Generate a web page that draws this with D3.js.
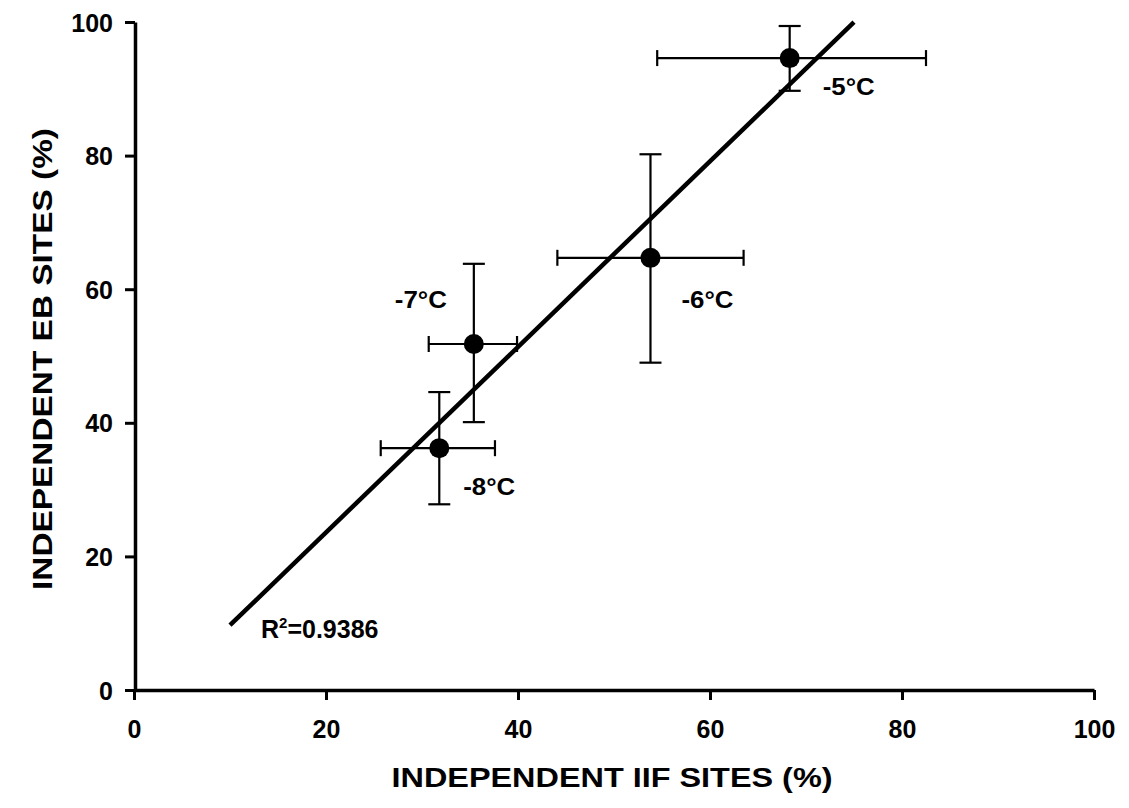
<!DOCTYPE html>
<html>
<head>
<meta charset="utf-8">
<script src="https://cdn.jsdelivr.net/npm/d3@7"></script>
<style>
  html, body { margin: 0; padding: 0; background: #fff; }
  svg { display: block; font-family: "Liberation Sans", Arial, sans-serif; font-weight: bold; }
</style>
</head>
<body>
<svg id="chart" width="1129" height="808"></svg>
<script>
// ---- data ----
const labels   = ["-5°C", "-6°C", "-7°C", "-8°C"];
const iifX     = [68.3, 53.8, 35.4, 31.8];
const ebY      = [94.6, 64.7, 51.8, 36.2];
const xErrLow  = [54.5, 44.1, 30.7, 25.7];
const xErrHigh = [82.5, 63.5, 39.9, 37.6];
const yErrLow  = [89.7, 49.0, 40.1, 27.8];
const yErrHigh = [99.4, 80.2, 63.8, 44.6];
const xTicks   = [0, 20, 40, 60, 80, 100];
const yTicks   = [0, 20, 40, 60, 80, 100];
const regSlope = 1.389, regIntercept = -4.19, regFrom = 10, regTo = 75;
const r2Text   = "0.9386";
const xTitle   = "INDEPENDENT IIF SITES (%)";
const yTitle   = "INDEPENDENT EB SITES (%)";

// ---- layout ----
const svg = d3.select("#chart");
const x = d3.scaleLinear().domain([0, 100]).range([134, 1094]);
const y = d3.scaleLinear().domain([0, 100]).range([690, 22]);

// axes
const xAxis = svg.append("g").attr("transform", "translate(0,690)")
  .call(d3.axisBottom(x).tickValues(xTicks).tickSize(10).tickSizeOuter(0).tickPadding(20));
const yAxis = svg.append("g").attr("transform", "translate(135,0)")
  .call(d3.axisLeft(y).tickValues(yTicks).tickSize(10).tickSizeOuter(0).tickPadding(12));
[xAxis, yAxis].forEach(a => {
  a.select(".domain").attr("stroke", "#000").attr("stroke-width", 3.5);
  a.selectAll(".tick line").attr("stroke", "#000").attr("stroke-width", 3);
  a.selectAll(".tick text").attr("fill", "#000")
    .style("font-size", "25px").style("font-weight", "bold")
    .style("font-family", '"Liberation Sans", Arial, sans-serif');
});
yAxis.selectAll(".tick text").attr("dy", "0.36em");
xAxis.selectAll(".tick text").attr("dy", "0.72em");

// regression line
svg.append("line")
  .attr("x1", x(regFrom)).attr("y1", y(regSlope * regFrom + regIntercept))
  .attr("x2", x(regTo)).attr("y2", y(regSlope * regTo + regIntercept))
  .attr("stroke", "#000").attr("stroke-width", 4.5);

// error bars
const idx = d3.range(labels.length);
const eb = svg.append("g").attr("stroke", "#000").attr("stroke-width", 2.2);
idx.forEach(i => {
  eb.append("line").attr("x1", x(xErrLow[i])).attr("x2", x(xErrHigh[i]))
    .attr("y1", y(ebY[i])).attr("y2", y(ebY[i]));
  eb.append("line").attr("x1", x(iifX[i])).attr("x2", x(iifX[i]))
    .attr("y1", y(yErrLow[i])).attr("y2", y(yErrHigh[i]));
  [xErrLow[i], xErrHigh[i]].forEach(v =>
    eb.append("line").attr("x1", x(v)).attr("x2", x(v))
      .attr("y1", y(ebY[i]) - 8).attr("y2", y(ebY[i]) + 8));
  [yErrLow[i], yErrHigh[i]].forEach(v =>
    eb.append("line").attr("x1", x(iifX[i]) - 11).attr("x2", x(iifX[i]) + 11)
      .attr("y1", y(v)).attr("y2", y(v)));
});

// points
svg.append("g").selectAll("circle").data(idx).join("circle")
  .attr("cx", i => x(iifX[i])).attr("cy", i => y(ebY[i])).attr("r", 10).attr("fill", "#000");

// point labels (offsets relative to point)
const labOff = [[33, 37], [31, 50], [-79, -36], [24, 47]];
svg.append("g").selectAll("text").data(idx).join("text")
  .attr("x", i => x(iifX[i]) + labOff[i][0]).attr("y", i => y(ebY[i]) + labOff[i][1])
  .attr("textLength", 52).attr("lengthAdjust", "spacingAndGlyphs")
  .style("font-size", "23px").attr("fill", "#000")
  .text(i => labels[i]);

// R^2
const r2 = svg.append("text").attr("x", 261).attr("y", 638).style("font-size", "25px").attr("fill", "#000");
r2.append("tspan").text("R");
r2.append("tspan").attr("dy", -10).style("font-size", "15px").text("2");
r2.append("tspan").attr("dy", 10).text("=" + r2Text);

// axis titles
svg.append("text").attr("x", 612).attr("y", 787).attr("text-anchor", "middle")
  .attr("textLength", 441).attr("lengthAdjust", "spacingAndGlyphs")
  .style("font-size", "28px").attr("fill", "#000").text(xTitle);
svg.append("text").attr("transform", "translate(52,359) rotate(-90)").attr("text-anchor", "middle")
  .attr("textLength", 462).attr("lengthAdjust", "spacingAndGlyphs")
  .style("font-size", "28px").attr("fill", "#000").text(yTitle);
</script>
</body>
</html>
